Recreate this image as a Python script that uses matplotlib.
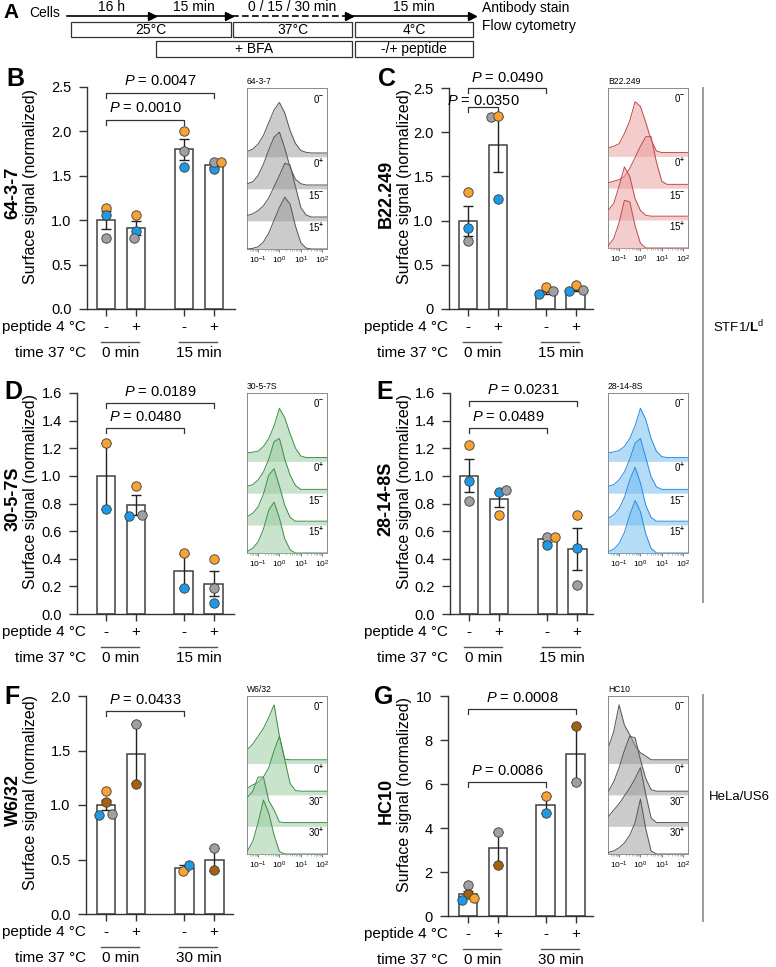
import numpy as np
import matplotlib
matplotlib.use("Agg")
import matplotlib.pyplot as plt
from matplotlib.lines import Line2D
from matplotlib.patches import Rectangle

plt.rcParams['font.family'] = ['Liberation Sans', 'DejaVu Sans']
plt.rcParams['mathtext.fontset'] = 'custom'
plt.rcParams['mathtext.rm'] = 'Liberation Sans'
plt.rcParams['mathtext.it'] = 'Liberation Sans:italic'
plt.rcParams['mathtext.bf'] = 'Liberation Sans:bold'

# ---------------- data ----------------
bar_x = [0, 1, 2.6, 3.6]
peptide = ['-', '+', '-', '+']
dot_colors = {'o': '#f7a232', 'b': '#1e9ae4', 'g': '#a0a0a0', 'r': '#a3620e'}

# panel A timeline
steps = ['16 h', '15 min', '0 / 15 / 30 min', '15 min']
temps = ['25°C', '37°C', '4°C']
treat = ['+ BFA', '-/+ peptide']

# B  64-3-7
b_mean = [1.00, 0.91, 1.80, 1.62]
b_sem = [0.10, 0.08, 0.12, 0.02]
b_dots = [[1.14, 1.06, 0.80], [1.06, 0.88, 0.80], [2.01, 1.78, 1.60], [1.58, 1.65, 1.65]]
b_dcol = [['o', 'b', 'g'], ['o', 'b', 'g'], ['o', 'g', 'b'], ['b', 'g', 'o']]
b_p = [(0, 2, 2.13, '0.0010'), (0, 3, 2.43, '0.0047')]
b_yt = [0, 0.5, 1.0, 1.5, 2.0, 2.5]
b_ytl = ['0.0', '0.5', '1.0', '1.5', '2.0', '2.5']

# C  B22.249
c_mean = [1.00, 1.86, 0.19, 0.22]
c_sem = [0.17, 0.31, 0.02, 0.02]
c_dots = [[1.32, 0.92, 0.77], [2.17, 2.18, 1.24], [0.17, 0.25, 0.20], [0.20, 0.27, 0.21]]
c_dcol = [['o', 'b', 'g'], ['g', 'o', 'b'], ['b', 'o', 'g'], ['b', 'o', 'g']]
c_p = [(0, 1, 2.29, '0.0350'), (0, 2, 2.50, '0.0490')]
c_yt = [0, 0.5, 1.0, 1.5, 2.0, 2.5]
c_ytl = ['0', '0.5', '1.0', '1.5', '2.0', '2.5']

# D  30-5-7S
d_mean = [1.00, 0.79, 0.31, 0.22]
d_sem = [0.24, 0.07, 0.125, 0.09]
d_dots = [[1.24, 0.76], [0.93, 0.71, 0.72], [0.44, 0.19], [0.40, 0.19, 0.08]]
d_dcol = [['o', 'b'], ['o', 'b', 'g'], ['o', 'b'], ['o', 'g', 'b']]
d_p = [(0, 2, 1.35, '0.0480'), (0, 3, 1.53, '0.0189')]
d_yt = [0, 0.2, 0.4, 0.6, 0.8, 1.0, 1.2, 1.4, 1.6]
d_ytl = ['0.0', '0.2', '0.4', '0.6', '0.8', '1.0', '1.2', '1.4', '1.6']

# E  28-14-8S
e_mean = [1.00, 0.83, 0.54, 0.47]
e_sem = [0.12, 0.055, 0.02, 0.15]
e_dots = [[1.22, 0.96, 0.82], [0.88, 0.90, 0.72], [0.56, 0.56, 0.50], [0.72, 0.48, 0.21]]
e_dcol = [['o', 'b', 'g'], ['b', 'g', 'o'], ['g', 'o', 'b'], ['o', 'b', 'g']]
e_p = [(0, 2, 1.35, '0.0489'), (0, 3, 1.54, '0.0231')]

# F  W6/32
f_mean = [1.00, 1.47, 0.42, 0.50]
f_sem = [0.05, 0.27, 0.03, 0.105]
f_dots = [[1.13, 1.03, 0.91, 0.92], [1.74, 1.19], [0.39, 0.45], [0.61, 0.40]]
f_dcol = [['o', 'r', 'b', 'g'], ['g', 'r'], ['o', 'b'], ['g', 'r']]
f_p = [(0, 2, 1.86, '0.0433')]
f_yt = [0, 0.5, 1.0, 1.5, 2.0]
f_ytl = ['0.0', '0.5', '1.0', '1.5', '2.0']

# G  HC10
g_mean = [1.00, 3.07, 5.05, 7.35]
g_sem = [0.15, 0.77, 0.39, 1.27]
g_dots = [[1.40, 1.00, 0.75, 0.82], [3.83, 2.30], [5.45, 4.67], [8.62, 6.10]]
g_dcol = [['g', 'r', 'b', 'o'], ['g', 'r'], ['o', 'b'], ['r', 'g']]
g_p = [(0, 2, 6.08, '0.0086'), (0, 3, 9.4, '0.0008')]
g_yt = [0, 2, 4, 6, 8, 10]
g_ytl = ['0', '2', '4', '6', '8', '10']

time15 = ['0 min', '15 min']
time30 = ['0 min', '30 min']

# flow histograms: log10 intensity grid, heights per row (top to bottom)
hist_x = [-1.5, -1.25, -1.0, -0.75, -0.5, -0.25, 0.0, 0.25, 0.5, 0.75, 1.0, 1.25, 1.5, 2.25]
hist_ticks = ['$10^{-1}$', '$10^{0}$', '$10^{1}$', '$10^{2}$']
lab15 = ['$0^{\\mathbf{-}}$', '$0^{\\mathbf{+}}$', '$15^{\\mathbf{-}}$', '$15^{\\mathbf{+}}$']
lab30 = ['$0^{\\mathbf{-}}$', '$0^{\\mathbf{+}}$', '$30^{\\mathbf{-}}$', '$30^{\\mathbf{+}}$']
b_hist = [[0.05, 0.12, 0.28, 0.55, 0.95, 1.35, 1.58, 1.25, 0.70, 0.30, 0.08, 0.02, 0, 0],
          [0.04, 0.10, 0.30, 0.65, 1.10, 1.50, 1.65, 1.15, 0.55, 0.18, 0.04, 0, 0, 0],
          [0.05, 0.10, 0.20, 0.35, 0.60, 0.95, 1.30, 1.68, 1.62, 0.95, 0.30, 0.06, 0, 0],
          [0.00, 0.02, 0.07, 0.22, 0.50, 0.90, 1.30, 1.62, 1.40, 0.72, 0.20, 0.03, 0, 0]]
c_hist = [[0.15, 0.20, 0.28, 0.60, 1.00, 1.60, 1.45, 0.95, 0.40, 0.05, 0, 0, 0, 0],
          [0.05, 0.10, 0.15, 0.25, 0.50, 0.85, 1.20, 1.50, 1.50, 0.70, 0.10, 0, 0, 0],
          [0.20, 0.40, 0.95, 1.55, 1.25, 0.55, 0.18, 0.03, 0, 0, 0, 0, 0, 0],
          [0.08, 0.30, 0.80, 1.50, 1.45, 0.70, 0.15, 0.00, 0, 0, 0, 0, 0, 0]]
d_hist = [[0.15, 0.17, 0.20, 0.35, 0.60, 1.00, 1.55, 1.25, 0.75, 0.30, 0.05, 0, 0, 0],
          [0.10, 0.15, 0.30, 0.55, 0.95, 1.50, 1.60, 0.95, 0.45, 0.12, 0, 0, 0, 0],
          [0.15, 0.25, 0.45, 0.85, 1.45, 1.65, 1.10, 0.50, 0.12, 0, 0, 0, 0, 0],
          [0.05, 0.15, 0.35, 0.75, 1.35, 1.60, 1.10, 0.45, 0.10, 0, 0, 0, 0, 0]]
e_hist = [[0.15, 0.18, 0.22, 0.35, 0.60, 1.00, 1.55, 1.20, 0.60, 0.20, 0.03, 0, 0, 0],
          [0.10, 0.15, 0.30, 0.55, 0.95, 1.45, 1.60, 1.00, 0.40, 0.08, 0, 0, 0, 0],
          [0.10, 0.20, 0.40, 0.75, 1.30, 1.70, 1.20, 0.50, 0.12, 0, 0, 0, 0, 0],
          [0.05, 0.12, 0.30, 0.65, 1.20, 1.65, 1.30, 0.60, 0.15, 0, 0, 0, 0, 0]]
f_hist = [[0.33, 0.50, 0.75, 1.00, 1.35, 1.75, 0.75, 0.02, 0, 0, 0, 0, 0, 0],
          [0.10, 0.20, 0.28, 0.45, 0.75, 1.30, 1.75, 1.00, 0.25, 0.02, 0, 0, 0, 0],
          [0.80, 1.00, 1.45, 1.45, 0.70, 0.40, 0.02, 0, 0, 0, 0, 0, 0, 0],
          [0.10, 0.40, 1.00, 1.72, 1.30, 0.60, 0.08, 0, 0, 0, 0, 0, 0, 0]]
g_hist = [[0.40, 0.90, 1.75, 1.10, 0.80, 0.45, 0.22, 0.12, 0, 0, 0, 0, 0, 0],
          [0.00, 0.30, 0.75, 1.30, 1.75, 1.70, 1.00, 0.40, 0.05, 0, 0, 0, 0, 0],
          [0.20, 0.40, 0.60, 0.85, 1.10, 1.40, 1.75, 0.90, 0.15, 0, 0, 0, 0, 0],
          [0.05, 0.10, 0.20, 0.35, 0.60, 1.00, 1.75, 0.80, 0.10, 0, 0, 0, 0, 0]]

# ---------------- figure ----------------
W, H = 776, 967
fig = plt.figure(figsize=(W / 100, H / 100), dpi=100)
fig.patch.set_facecolor('white')


def rect(x0, y0, x1, y1):
    return [x0 / W, 1 - y1 / H, (x1 - x0) / W, (y1 - y0) / H]


# overlay in pixel coordinates for free text / lines
ov = fig.add_axes([0, 0, 1, 1], zorder=5)
ov.set_xlim(0, W)
ov.set_ylim(H, 0)
ov.axis('off')
ov.patch.set_alpha(0)


def bar_panel(rc, xl, yl, yt, ytl, mean, sem, dots, dcol, jit, pvals, gaps, times):
    x0, y0, x1, y1 = rc
    hpx = y1 - y0
    ax = fig.add_axes(rect(x0, y0, x1, y1))
    ax.set_xlim(*xl)
    ax.set_ylim(*yl)
    ax.bar(bar_x, mean, width=0.63, color='white', edgecolor='#404040', linewidth=1.1, zorder=2)
    ax.errorbar(bar_x, mean, yerr=sem, fmt='none', ecolor='#222222', elinewidth=1.0,
                capsize=3.5, capthick=1.0, zorder=3)
    for k in range(4):
        for v, c, j in zip(dots[k], dcol[k], jit[k]):
            ax.scatter(bar_x[k] + j, v, s=46, color=dot_colors[c], edgecolors='#3a3a3a',
                       linewidths=0.6, zorder=4, clip_on=False)
    unit = (yl[1] - yl[0]) / hpx
    for (i, j, y, p), gp in zip(pvals, gaps):
        xa, xb = bar_x[i], bar_x[j]
        ax.plot([xa, xa, xb, xb], [y - 5 * unit, y, y, y - 5 * unit], color='#333333', lw=0.9,
                clip_on=False)
        ax.text((xa + xb) / 2, y + gp * unit, '$P$ = ' + p, ha='center', va='bottom', fontsize=10.5)
    for s in ['top', 'right']:
        ax.spines[s].set_visible(False)
    for s in ['left', 'bottom']:
        ax.spines[s].set_color('#333333')
        ax.spines[s].set_linewidth(1.0)
    ax.set_yticks(yt)
    ax.set_yticklabels(ytl)
    ax.set_xticks(bar_x)
    ax.set_xticklabels([])
    ax.tick_params(axis='y', direction='out', length=6, width=1, pad=5, labelsize=10.5, color='#333333')
    ax.tick_params(axis='x', direction='out', length=5, width=1, color='#333333')
    trans = ax.get_xaxis_transform()
    for k in range(4):
        ax.text(bar_x[k], -18 / hpx, peptide[k], transform=trans, ha='center', va='center', fontsize=11)
    for k, t in enumerate(times):
        xa, xb = bar_x[2 * k], bar_x[2 * k + 1]
        ax.plot([xa - 0.17, xb + 0.1], [-33 / hpx] * 2, transform=trans, color='#555555', lw=1,
                clip_on=False)
        ax.text((xa + xb) / 2, -44 / hpx, t, transform=trans, ha='center', va='center', fontsize=11)
    return ax


def hist_panel(rc, title, curves, labels, fc, ec):
    ax = fig.add_axes(rect(*rc))
    n = len(curves)
    for i, h in enumerate(curves):
        base = n - 1 - i
        y = base + np.array(h)
        ax.fill_between(hist_x, base - 0.12, y, color=fc, alpha=0.5, lw=0, zorder=2 + i)
        ax.plot(hist_x, y, color=ec, lw=0.7, zorder=2 + i)
    ax.set_xlim(-1.52, 2.23)
    ax.set_ylim(0, 5.03)
    ax.text(2.12, 4.7, labels[0], ha='right', va='center', fontsize=7, zorder=10)
    for i in range(1, n):
        ax.text(2.12, (n - i) - 0.32, labels[i], ha='right', va='center', fontsize=7, zorder=10)
    ax.set_yticks([])
    ax.set_xticks([-1, 0, 1, 2])
    ax.set_xticklabels(hist_ticks)
    minor = [np.log10(k * 10.0 ** e) for e in range(-2, 2) for k in range(2, 10)]
    ax.set_xticks([m for m in minor if -1.52 < m < 2.23], minor=True)
    ax.tick_params(axis='x', which='major', length=2.5, width=0.6, pad=1.5, labelsize=6, color='#666666')
    ax.tick_params(axis='x', which='minor', length=1.4, width=0.4, color='#888888')
    for s in ax.spines.values():
        s.set_color('#8a8a8a')
        s.set_linewidth(0.7)
    ax.text(0, 1.012, title, transform=ax.transAxes, ha='left', va='bottom', fontsize=6.2)
    return ax


z3 = [0, 0, 0]
bar_panel((87, 87, 235, 309), (-0.633, 4.3), (0, 2.5), b_yt, b_ytl, b_mean, b_sem, b_dots, b_dcol,
          [z3, [0, 0, -0.05], z3, [0, 0, 0.25]], b_p, [5, 5], time15)
bar_panel((449, 88, 593, 309), (-0.633, 4.17), (0, 2.5), c_yt, c_ytl, c_mean, c_sem, c_dots, c_dcol,
          [z3, [-0.23, 0, 0], [-0.23, 0, 0.23], [-0.23, 0, 0.23]], c_p, [-1, 3], time15)
bar_panel((77, 393, 234, 614), (-0.967, 4.27), (0, 1.6), d_yt, d_ytl, d_mean, d_sem, d_dots, d_dcol,
          [[0, 0], [0, -0.23, 0.2], [0, 0], z3], d_p, [4, 4], time15)
bar_panel((450, 393, 593, 614), (-0.633, 4.13), (0, 1.6), d_yt, d_ytl, e_mean, e_sem, e_dots, e_dcol,
          [z3, [0, 0.23, 0], [0, 0.25, 0], z3], e_p, [4, 4], time15)
bar_panel((86, 696, 233, 914), (-0.667, 4.23), (0, 2.0), f_yt, f_ytl, f_mean, f_sem, f_dots, f_dcol,
          [[0, 0, -0.23, 0.2], [0, 0], [-0.05, 0.17], [0, 0]], f_p, [4], time30)
bar_panel((448, 696, 593, 916), (-0.667, 4.17), (0, 10), g_yt, g_ytl, g_mean, g_sem, g_dots, g_dcol,
          [[0, 0, -0.2, 0.2], [0, 0], [0, 0], [0, 0]], g_p, [4, 4], time30)

hist_panel((247, 88, 327, 249), '64-3-7', b_hist, lab15, '#999999', '#555555')
hist_panel((608, 88, 688, 248), 'B22.249', c_hist, lab15, '#e89a9a', '#c24848')
hist_panel((247, 393, 327, 553), '30-5-7S', d_hist, lab15, '#94c89c', '#3a8f47')
hist_panel((608, 393, 688, 553), '28-14-8S', e_hist, lab15, '#6bbaf0', '#2a8ae6')
hist_panel((247, 696, 327, 854), 'W6/32', f_hist, lab30, '#94c89c', '#3a8f47')
hist_panel((608, 696, 688, 854), 'HC10', g_hist, lab30, '#999999', '#555555')

# axis titles, row captions
names = [('64-3-7', 13, 31, 87, 309), ('B22.249', 386, 404, 88, 309),
         ('30-5-7S', 13, 31, 393, 614), ('28-14-8S', 386, 404, 393, 614),
         ('W6/32', 13, 31, 696, 914), ('HC10', 386, 404, 696, 916)]
for nm, xn, xl, ya, yb in names:
    yc = (ya + yb) / 2
    ov.text(xn, yc - 5, nm, rotation=90, ha='center', va='center', fontsize=13, fontweight='bold')
    ov.text(xl, yc - 12, 'Surface signal (normalized)', rotation=90, ha='center', va='center',
            fontsize=11.5)
    xr = 86 if xn < 100 else 448
    ov.text(xr, yb + 18, 'peptide 4 °C', ha='right', va='center', fontsize=11)
    ov.text(xr, yb + 44, 'time 37 °C', ha='right', va='center', fontsize=11)

for lt, x, y in [('B', 15, 79), ('C', 387, 79), ('D', 13, 392), ('E', 385, 392),
                 ('F', 12, 697), ('G', 384, 697)]:
    ov.text(x, y, lt, ha='center', va='center', fontsize=18, fontweight='bold')

# cell line brackets
ov.add_line(Line2D([703, 703], [88, 602], color='#9a9a9a', lw=1.4))
ov.add_line(Line2D([703, 703], [695, 921], color='#9a9a9a', lw=1.4))
ov.text(713, 327, r'STF1/$\mathbf{L}^{\mathrm{d}}$', ha='left', va='center', fontsize=9.5)
ov.text(709, 797, 'HeLa/US6', ha='left', va='center', fontsize=9.5)

# ---------------- panel A ----------------
ov.text(11, 13, 'A', ha='center', va='center', fontsize=15, fontweight='bold')
ov.text(29, 13, 'Cells', ha='left', va='center', fontsize=10)
seg = [67, 155, 232, 352, 475]
for k in range(4):
    if k == 2:
        ov.plot([seg[k], seg[k + 1] - 3], [16, 16], color='black', lw=1.2, ls='--', dashes=(4, 2))
    else:
        ov.plot([seg[k], seg[k + 1] - 3], [16, 16], color='black', lw=1.2)
    ov.plot([seg[k + 1] - 3], [16], marker='>', ms=6, color='black', mec='black')
    ov.text((seg[k] + seg[k + 1]) / 2, 7, steps[k], ha='center', va='center', fontsize=10)
boxes1 = [(71, 231), (233, 352), (355, 473)]
for (a, b), t in zip(boxes1, temps):
    ov.add_patch(Rectangle((a, 22), b - a, 15, fill=False, ec='#333333', lw=0.9))
    ov.text((a + b) / 2, 29.5, t, ha='center', va='center', fontsize=10)
boxes2 = [(156, 352), (355, 473)]
for (a, b), t in zip(boxes2, treat):
    ov.add_patch(Rectangle((a, 41), b - a, 16, fill=False, ec='#333333', lw=0.9))
    ov.text((a + b) / 2, 49, t, ha='center', va='center', fontsize=10)
ov.text(482, 8, 'Antibody stain', ha='left', va='center', fontsize=10)
ov.text(482, 26, 'Flow cytometry', ha='left', va='center', fontsize=10)

fig.savefig('out.png', dpi=100, facecolor='white')
